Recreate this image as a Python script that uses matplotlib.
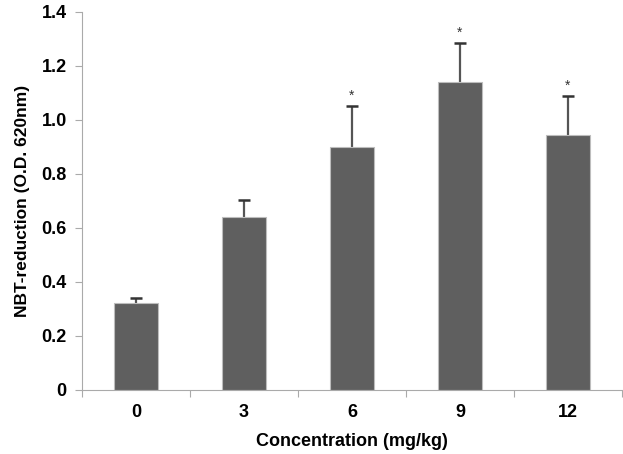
import numpy as np
import matplotlib
matplotlib.use("Agg")
import matplotlib.pyplot as plt

# NBT reduction vs dose
concentrations = ['0', '3', '6', '9', '12']
nbt_mean = [0.322, 0.640, 0.901, 1.139, 0.944]
nbt_err = [0.018, 0.064, 0.152, 0.147, 0.146]
significant = [False, False, True, True, True]
ytick_vals = [0, 0.2, 0.4, 0.6, 0.8, 1.0, 1.2, 1.4]
ytick_labels = ['0', '0.2', '0.4', '0.6', '0.8', '1.0', '1.2', '1.4']

plt.rcParams['font.family'] = ['Liberation Sans', 'DejaVu Sans']

fig = plt.figure(figsize=(6.23, 4.54), dpi=100)
ax = fig.add_axes([82 / 623, 1 - 390 / 454, 540 / 623, 378 / 454])

x = np.arange(len(concentrations))
mean = np.array(nbt_mean)
err = np.array(nbt_err)

ax.bar(x, mean, width=0.4, color='#5f5f5f', edgecolor='#bdbdbd', linewidth=0.8, zorder=2)
# upper error bars only, starting from bar top
ax.errorbar(x, mean, yerr=[np.zeros(len(x)), err], fmt='none',
            ecolor='#555555', elinewidth=1.6, capsize=0, zorder=1)
ax.plot(x, mean + err, linestyle='none', marker='_', markersize=8,
        markeredgewidth=1.8, color='#333333', zorder=3)

for xi, m, e, s in zip(x, mean, err, significant):
    if s:
        ax.text(xi, m + e + 0.01, '*', ha='center', va='bottom', fontsize=10, color='#333333')

ax.set_xlim(-0.5, len(x) - 0.5)
ax.set_ylim(0, 1.4)

# category boundaries get tick marks, labels sit at centres
ax.set_xticks(np.arange(-0.5, len(x), 1.0))
ax.set_xticklabels([])
ax.set_xticks(x, minor=True)
ax.set_xticklabels(concentrations, minor=True, fontsize=13, fontweight='bold')
ax.tick_params(axis='x', which='minor', length=0, pad=10)
ax.tick_params(axis='x', which='major', length=5, color='#aaaaaa', direction='out')

ax.set_yticks(ytick_vals)
ax.set_yticklabels(ytick_labels, fontsize=13, fontweight='bold')
ax.tick_params(axis='y', length=5, color='#aaaaaa', direction='out', pad=6)

for side in ['top', 'right']:
    ax.spines[side].set_visible(False)
ax.spines['left'].set_color('#aaaaaa')
ax.spines['bottom'].set_color('#aaaaaa')

ax.set_xlabel('Concentration (mg/kg)', fontsize=13, fontweight='bold', labelpad=9)
ax.set_ylabel('NBT-reduction (O.D. 620nm)', fontsize=12.5, fontweight='bold', labelpad=8)

fig.savefig('out.png', dpi=100)
